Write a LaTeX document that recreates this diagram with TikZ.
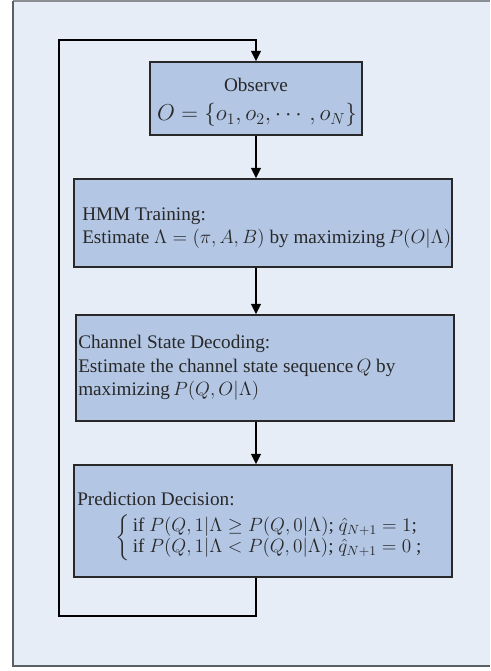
\documentclass[tikz,border=0pt]{standalone}
\usepackage{fontspec}
\setmainfont{Liberation Serif}
\usepackage{amsmath, amssymb}
\usetikzlibrary{arrows.meta, positioning, calc}
\definecolor{pagebg}{RGB}{230, 237, 246}
\definecolor{boxblue}{RGB}{179, 198, 228}
\definecolor{textgray}{RGB}{40, 40, 40}
\definecolor{framegray}{RGB}{90, 95, 100}
\tikzset{
  box/.style={draw=textgray, fill=boxblue, line width=0.8pt, inner sep=0pt},
  txt/.style={text=textgray, font=\fontsize{14.4}{17.5}\selectfont, align=left, inner sep=0pt},
  flow/.style={-{Triangle[length=8pt, width=7pt]}, line width=2pt, black}
}

\begin{document}
\begin{tikzpicture}[x=0.75pt, y=-0.75pt]
  % Page
  \useasboundingbox (0,0) rectangle (490,671);
  \fill[pagebg] (13,1) rectangle (490,666);
  \draw[framegray!70, line width=1.5pt] (13,1) -- (490,1);
  \draw[framegray, line width=1.5pt] (13,1) -- (13,666) -- (490,666);

  % Boxes (sizes in pt, 0.75pt per pixel)
  \node[box, minimum width=159pt, minimum height=54.75pt] (obs) at (256, 98.5) {};
  \node[box, minimum width=283.5pt, minimum height=66pt] (hmm) at (263, 223) {};
  \node[box, minimum width=283.5pt, minimum height=79.5pt] (dec) at (265, 368) {};
  \node[box, minimum width=283.5pt, minimum height=84pt] (pred) at (263, 521) {};

  % Texts
  \node[txt] (obstitle) at (256, 85) {Observe};
  \node[txt, font=\fontsize{17}{20}\selectfont] (obsset) at (257, 115) {$O=\{o_1,o_2,\cdots,o_N\}$};
  \node[txt, anchor=west] (hmmtxt) at (82, 228) {HMM Training:\\
    Estimate $\Lambda=(\pi,A,B)$ by maximizing\,$P(O|\Lambda)$};
  \node[txt, anchor=west] (dectxt) at (78, 368) {Channel State Decoding:\\
    Estimate the channel state sequence\,$Q$ by\\
    maximizing\,$P(Q,O|\Lambda)$};
  \node[txt, anchor=west] (predtitle) at (77, 499) {Prediction Decision:};
  \node[txt, anchor=west] (predcases) at (115, 538) {$\left\{\renewcommand{\arraystretch}{0.9}\begin{array}{@{\,}l}
    \text{if } P(Q,1|\Lambda\geq P(Q,0|\Lambda)\text{; }\hat{q}_{N+1}=1\text{;}\\
    \text{if } P(Q,1|\Lambda< P(Q,0|\Lambda)\text{; }\hat{q}_{N+1}=0\text{ ;}
    \end{array}\right.$};

  % Connectors
  \coordinate (loopbot) at (59, 616);
  \coordinate (looptop) at (59, 40);
  \draw[flow] (obs) -- (hmm.north -| obs);
  \draw[flow] (hmm.south -| obs) -- (dec.north -| obs);
  \draw[flow] (dec.south -| obs) -- (pred.north -| obs);
  \draw[flow] (pred.south -| obs) |- (loopbot) -- (looptop) -| (obs.north);
\end{tikzpicture}
\end{document}
